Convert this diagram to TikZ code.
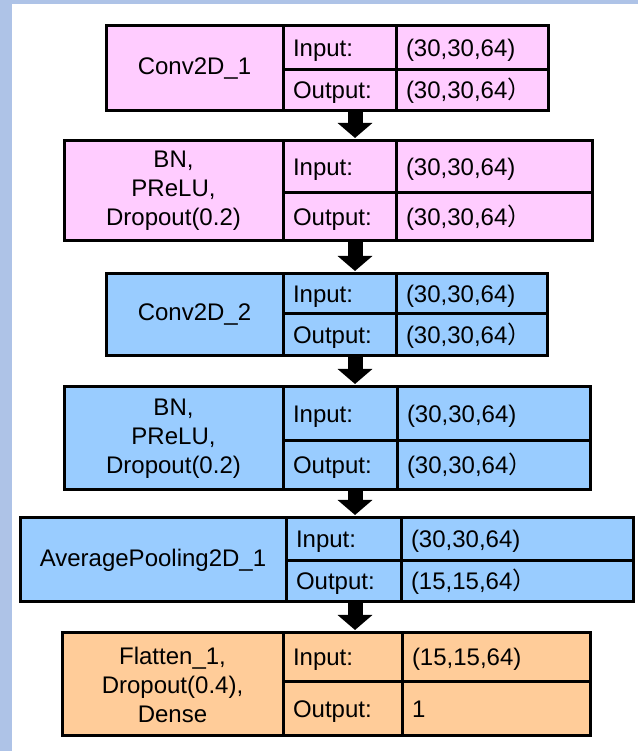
\documentclass[tikz,border=0pt]{standalone}
\usepackage{fontspec}
\setmainfont{Liberation Sans}
\newfontfamily\cjk{Noto Sans CJK SC}
\usetikzlibrary{arrows.meta,positioning}
\definecolor{pinkfill}{RGB}{255,204,255}
\definecolor{bluefill}{RGB}{153,204,255}
\definecolor{orangefill}{RGB}{255,204,153}
\definecolor{frameblue}{RGB}{174,195,231}

\begin{document}
\begin{tikzpicture}[
  x=1pt, y=1pt,
  cell/.style={draw=black, line width=3pt, inner sep=0pt, outer sep=0pt,
               font=\fontsize{24}{29}\selectfont},
  namecell/.style={cell, anchor=north west, align=center},
  lab/.style={cell, anchor=north west, inner xsep=10pt,
              text width={#1-20pt}, text height=20pt, text depth=3pt,
              align=left},
  arr/.style={line width=15pt, -{Triangle[width=34pt,length=15pt]},
              shorten >=3pt}
]
\useasboundingbox (0,0) rectangle (638,751);
\fill[frameblue] (0,0) rectangle (638,751);
\fill[white] (12,0) rectangle (638,746.5);

\node[namecell, fill=pinkfill, minimum width=177pt, minimum height=85pt] (n1) at (106,725) {Conv2D\_1};
\node[lab=113pt, fill=pinkfill, minimum height=44pt] (il1) at (n1.north east) {Input:};
\node[lab=152pt, fill=pinkfill, minimum height=44pt] (iv1) at (il1.north east) {(30,30,64)};
\node[lab=113pt, fill=pinkfill, minimum height=41pt] (ol1) at (il1.south west) {Output:};
\node[lab=152pt, fill=pinkfill, minimum height=41pt] (ov1) at (ol1.north east) {(30,30,64{\cjk ）}};

\node[namecell, fill=pinkfill, minimum width=219pt, minimum height=100pt] (n2) at (64,610) {BN,\\PReLU,\\Dropout(0.2)};
\node[lab=113pt, fill=pinkfill, minimum height=52pt] (il2) at (n2.north east) {Input:};
\node[lab=196pt, fill=pinkfill, minimum height=52pt] (iv2) at (il2.north east) {(30,30,64)};
\node[lab=113pt, fill=pinkfill, minimum height=48pt] (ol2) at (il2.south west) {Output:};
\node[lab=196pt, fill=pinkfill, minimum height=48pt] (ov2) at (ol2.north east) {(30,30,64{\cjk ）}};

\node[namecell, fill=bluefill, minimum width=177pt, minimum height=82pt] (n3) at (106,477) {Conv2D\_2};
\node[lab=113pt, fill=bluefill, minimum height=40pt] (il3) at (n3.north east) {Input:};
\node[lab=151pt, fill=bluefill, minimum height=40pt] (iv3) at (il3.north east) {(30,30,64)};
\node[lab=113pt, fill=bluefill, minimum height=42pt] (ol3) at (il3.south west) {Output:};
\node[lab=151pt, fill=bluefill, minimum height=42pt] (ov3) at (ol3.north east) {(30,30,64{\cjk ）}};

\node[namecell, fill=bluefill, minimum width=219pt, minimum height=103pt] (n4) at (64,364) {BN,\\PReLU,\\Dropout(0.2)};
\node[lab=114pt, fill=bluefill, minimum height=54pt] (il4) at (n4.north east) {Input:};
\node[lab=193pt, fill=bluefill, minimum height=54pt] (iv4) at (il4.north east) {(30,30,64)};
\node[lab=114pt, fill=bluefill, minimum height=49pt] (ol4) at (il4.south west) {Output:};
\node[lab=193pt, fill=bluefill, minimum height=49pt] (ov4) at (ol4.north east) {(30,30,64{\cjk ）}};

\node[namecell, fill=bluefill, minimum width=266pt, minimum height=84pt] (n5) at (20,233) {AveragePooling2D\_1};
\node[lab=115pt, fill=bluefill, minimum height=43pt] (il5) at (n5.north east) {Input:};
\node[lab=232pt, fill=bluefill, minimum height=43pt] (iv5) at (il5.north east) {(30,30,64)};
\node[lab=115pt, fill=bluefill, minimum height=41pt] (ol5) at (il5.south west) {Output:};
\node[lab=232pt, fill=bluefill, minimum height=41pt] (ov5) at (ol5.north east) {(15,15,64{\cjk ）}};

\node[namecell, fill=orangefill, minimum width=221pt, minimum height=103pt] (n6) at (62,118) {Flatten\_1,\\Dropout(0.4),\\Dense};
\node[lab=119pt, fill=orangefill, minimum height=49pt] (il6) at (n6.north east) {Input:};
\node[lab=188pt, fill=orangefill, minimum height=49pt] (iv6) at (il6.north east) {(15,15,64)};
\node[lab=119pt, fill=orangefill, minimum height=54pt] (ol6) at (il6.south west) {Output:};
\node[lab=188pt, fill=orangefill, minimum height=54pt] (ov6) at (ol6.north east) {1};

\coordinate (ax) at (355,0);
\draw[arr] (ol1.south -| ax) -- (il2.north -| ax);
\draw[arr] (ol2.south -| ax) -- (il3.north -| ax);
\draw[arr] (ol3.south -| ax) -- (il4.north -| ax);
\draw[arr] (ol4.south -| ax) -- (il5.north -| ax);
\draw[arr] (ol5.south -| ax) -- (il6.north -| ax);
\end{tikzpicture}
\end{document}
